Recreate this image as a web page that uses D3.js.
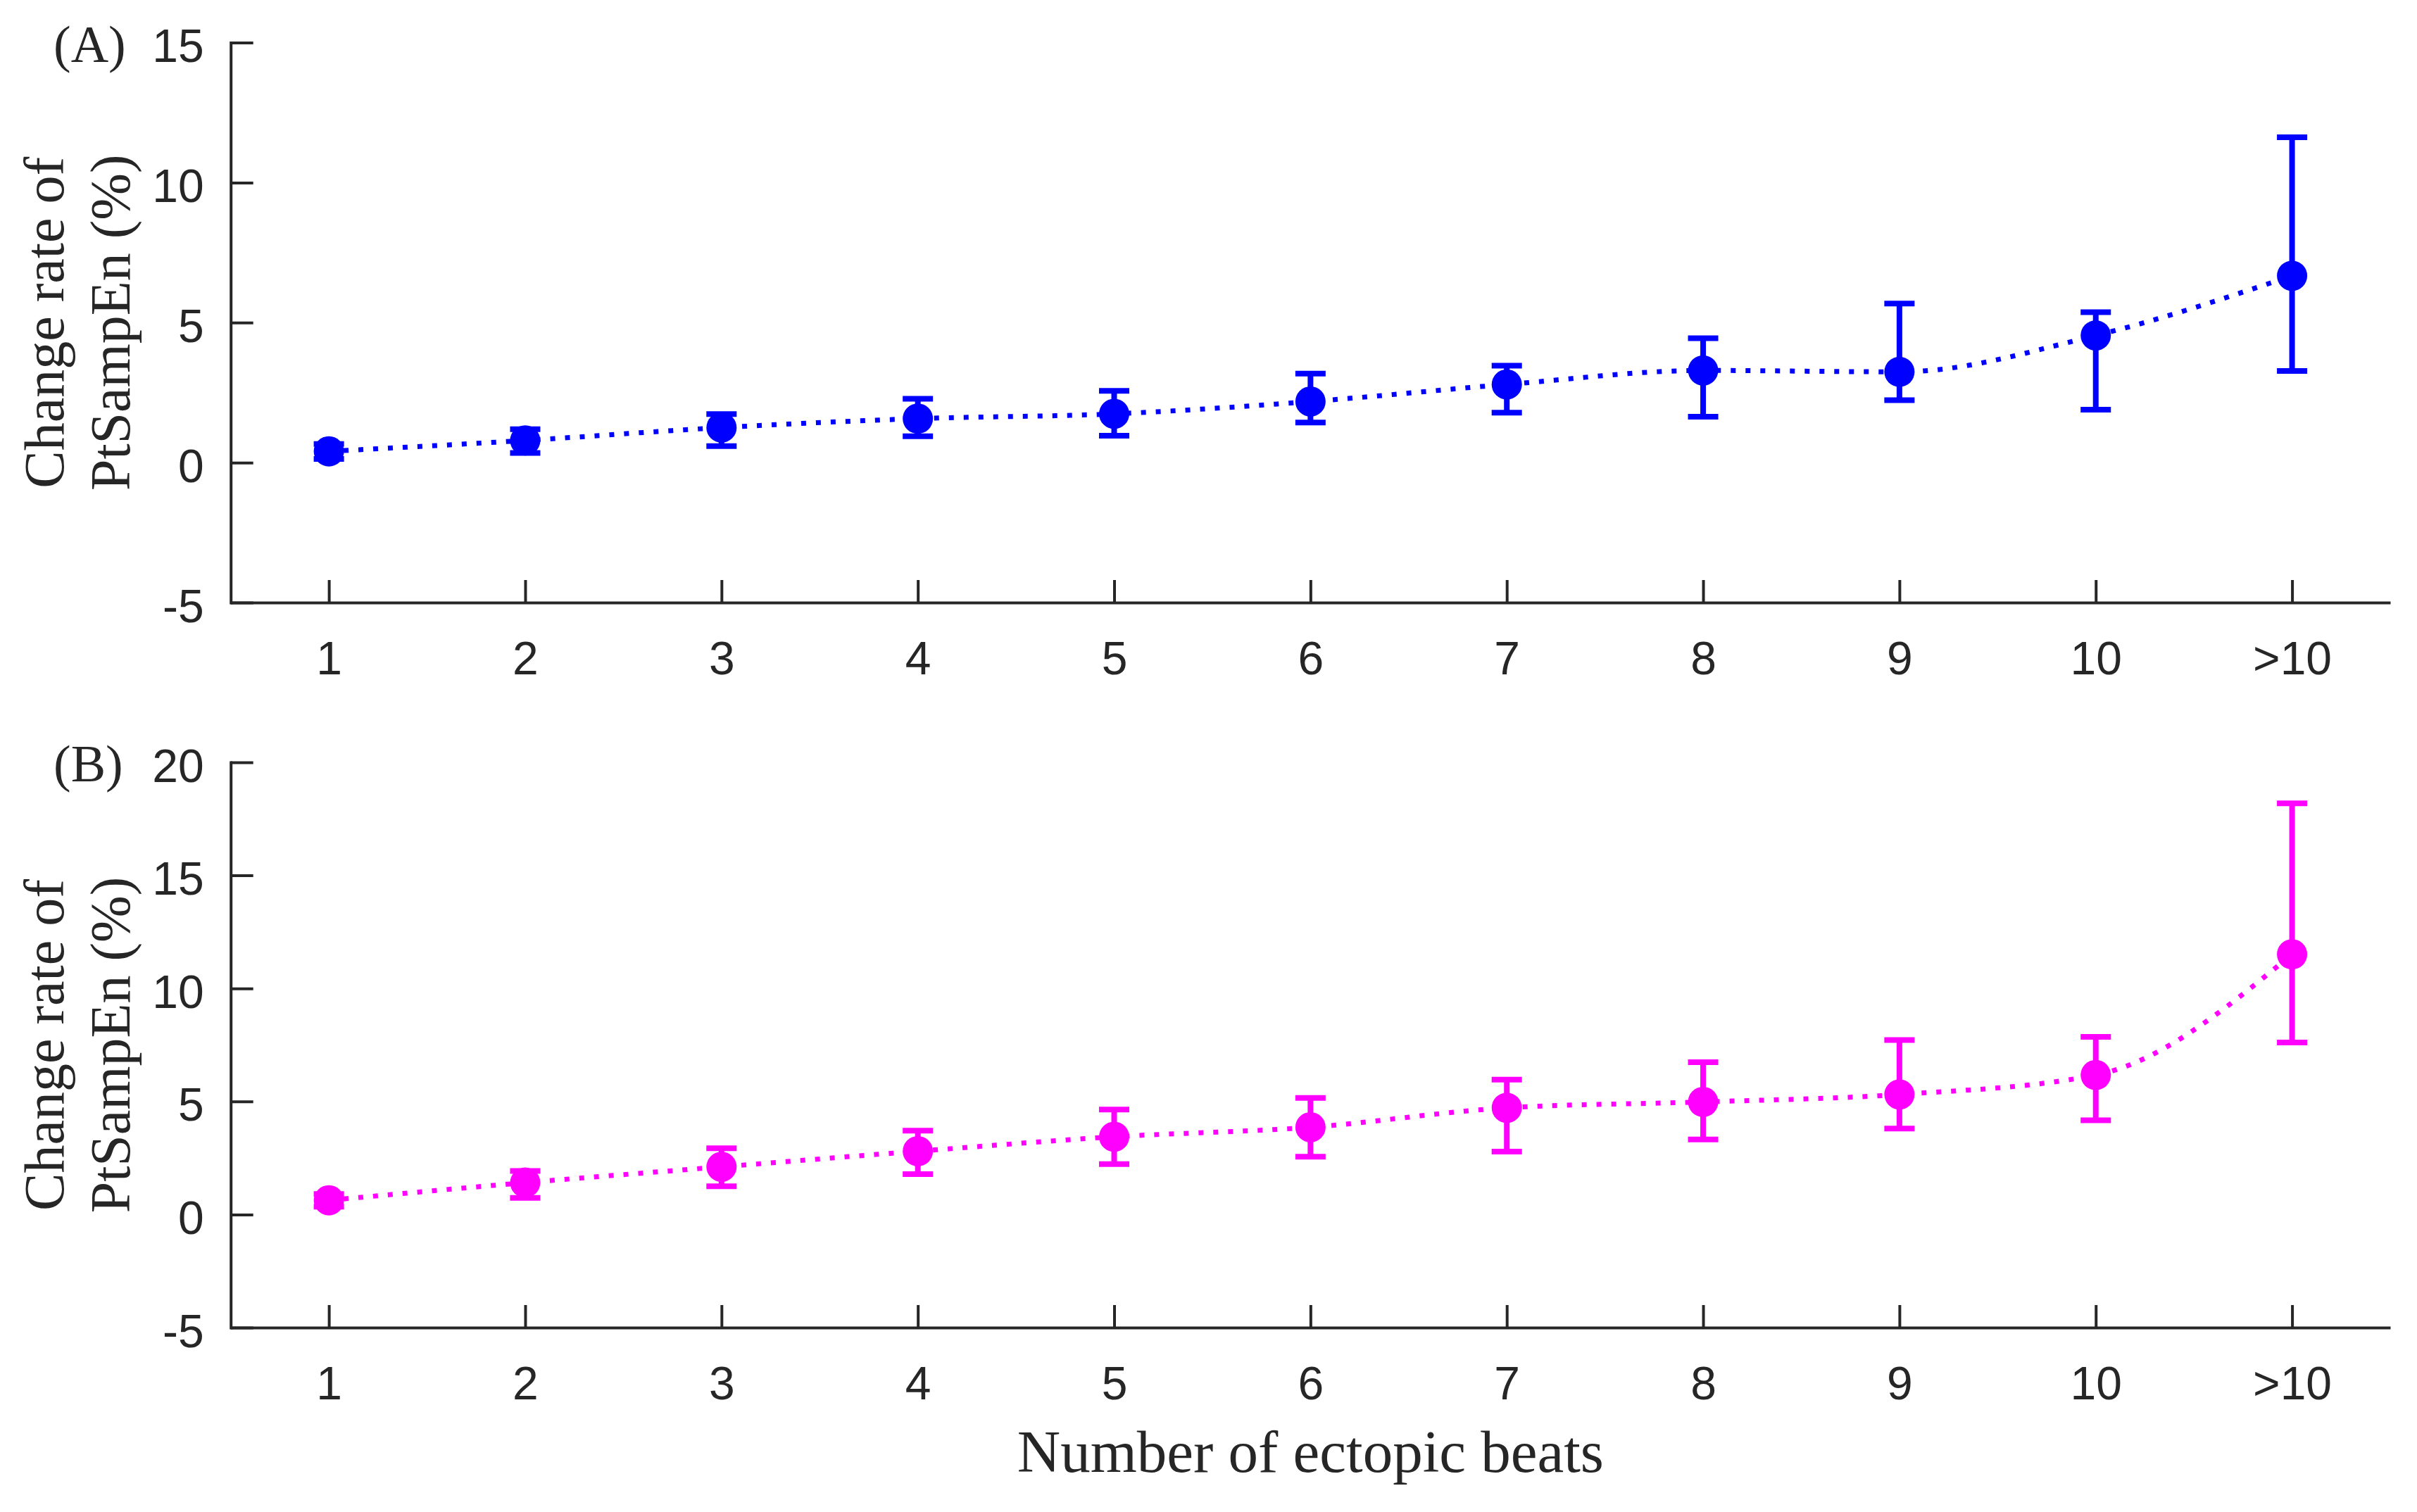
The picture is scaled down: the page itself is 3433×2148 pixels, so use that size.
<!DOCTYPE html>
<html>
<head>
<meta charset="utf-8">
<style>
  body { margin: 0; background: #fff; }
  .axis path, .axis line { stroke: #262626; stroke-width: 4; fill: none; }
  .axis text { font-family: "Liberation Sans", Arial, sans-serif; font-size: 66px; fill: #262626; }
  .lab { font-family: "Liberation Serif", "Times New Roman", serif; fill: #262626; }
</style>
</head>
<body>
<svg width="3433" height="2148"></svg>
<script src="https://cdn.jsdelivr.net/npm/d3@7"></script>
<script>
// categories on the x axis
var categories = ["1", "2", "3", "4", "5", "6", "7", "8", "9", "10", ">10"];

// panel A (blue): mean and error bar ends
var meanA = [0.40, 0.79, 1.25, 1.57, 1.74, 2.18, 2.79, 3.29, 3.24, 4.54, 6.67];
var lowA  = [0.13, 0.34, 0.59, 0.94, 0.96, 1.43, 1.78, 1.64, 2.23, 1.89, 3.27];
var highA = [0.66, 1.19, 1.73, 2.28, 2.56, 3.18, 3.46, 4.44, 5.68, 5.37, 11.62];

// panel B (magenta)
var meanB = [0.63, 1.41, 2.11, 2.80, 3.44, 3.86, 4.72, 4.98, 5.31, 6.17, 11.51];
var lowB  = [0.35, 0.74, 1.25, 1.79, 2.23, 2.56, 2.78, 3.32, 3.80, 4.17, 7.61];
var highB = [0.91, 1.93, 2.93, 3.71, 4.64, 5.16, 5.97, 6.74, 7.72, 7.86, 18.19];

// y tick values
var ticksA = [-5, 0, 5, 10, 15];
var ticksB = [-5, 0, 5, 10, 15, 20];

var svg = d3.select("svg");
var left = 327.7, right = 3395;

var x = d3.scaleLinear().domain([0.5, 11.5]).range([left, right]);

function panel(opts) {
  var y = d3.scaleLinear().domain(opts.domain).range([opts.bottom, opts.top]);
  var g = svg.append("g");

  // axes, ticks pointing inward
  g.append("g").attr("class", "axis")
    .attr("transform", "translate(0," + opts.bottom + ")")
    .call(d3.axisBottom(x).tickValues(d3.range(1, 12))
      .tickFormat(function(d){ return categories[d - 1]; })
      .tickSizeInner(-32).tickSizeOuter(0).tickPadding(55));
  var ya = g.append("g").attr("class", "axis")
    .attr("transform", "translate(" + left + ",0)")
    .call(d3.axisLeft(y).tickValues(opts.ticks)
      .tickFormat(function(d){ return String(d); })
      .tickSizeInner(-32).tickSizeOuter(0).tickPadding(38));
  ya.selectAll("text").attr("dy", "0.41em");
  ya.select(".domain").attr("stroke-linecap", "square");

  var data = opts.mean.map(function(m, i){
    return {i: i + 1, m: m, lo: opts.low[i], hi: opts.high[i]};
  });

  // dotted connecting line
  var line = d3.line()
    .x(function(d){ return x(d.i); })
    .y(function(d){ return y(d.m); })
    .curve(d3.curveMonotoneX);
  g.append("path").datum(data)
    .attr("d", line)
    .attr("fill", "none")
    .attr("stroke", opts.color)
    .attr("stroke-width", 7)
    .attr("stroke-dasharray", "7 14");

  // error bars
  var eb = g.selectAll(".eb").data(data).enter().append("g")
    .attr("stroke", opts.color).attr("stroke-width", 8);
  eb.append("line")
    .attr("x1", function(d){ return x(d.i); }).attr("x2", function(d){ return x(d.i); })
    .attr("y1", function(d){ return y(d.lo); }).attr("y2", function(d){ return y(d.hi); });
  eb.append("line")
    .attr("x1", function(d){ return x(d.i) - 21.5; }).attr("x2", function(d){ return x(d.i) + 21.5; })
    .attr("y1", function(d){ return y(d.hi); }).attr("y2", function(d){ return y(d.hi); });
  eb.append("line")
    .attr("x1", function(d){ return x(d.i) - 21.5; }).attr("x2", function(d){ return x(d.i) + 21.5; })
    .attr("y1", function(d){ return y(d.lo); }).attr("y2", function(d){ return y(d.lo); });

  // markers
  g.selectAll(".pt").data(data).enter().append("circle")
    .attr("cx", function(d){ return x(d.i); })
    .attr("cy", function(d){ return y(d.m); })
    .attr("r", 21.5)
    .attr("fill", opts.color);

  // y label (two lines)
  var cy = (opts.top + opts.bottom) / 2;
  var yl = g.append("text").attr("class", "lab")
    .attr("font-size", 80)
    .attr("text-anchor", "middle")
    .attr("transform", "translate(90," + cy + ") rotate(-90)");
  yl.append("tspan").attr("x", 0).attr("y", 0).text("Change rate of");
  yl.append("tspan").attr("x", 0).attr("y", 94).text("PtSampEn (%)");

  // panel letter
  g.append("text").attr("class", "lab")
    .attr("font-size", 74)
    .attr("x", 76).attr("y", opts.top + 27)
    .text(opts.letter);
}

panel({domain: [-5, 15], ticks: ticksA, top: 60.5, bottom: 856,
       mean: meanA, low: lowA, high: highA, color: "#0000ff", letter: "(A)"});
panel({domain: [-5, 20], ticks: ticksB, top: 1083, bottom: 1886,
       mean: meanB, low: lowB, high: highB, color: "#ff00ff", letter: "(B)"});

svg.append("text").attr("class", "lab")
  .attr("font-size", 85)
  .attr("text-anchor", "middle")
  .attr("x", (left + right) / 2).attr("y", 2091)
  .text("Number of ectopic beats");
</script>
</body>
</html>
